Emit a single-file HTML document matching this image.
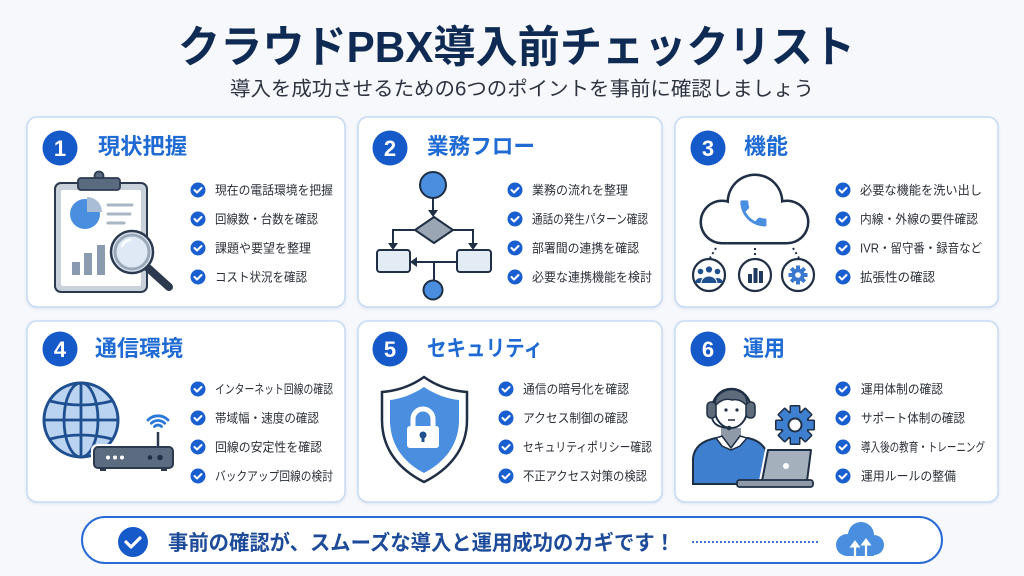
<!DOCTYPE html>
<html><head><meta charset="utf-8"><style>
html,body{margin:0;padding:0;width:1024px;height:576px;overflow:hidden;background:#f6f8fc}
svg{display:block}
text{font-family:"Liberation Sans","Noto Sans CJK JP",sans-serif}
</style></head><body>
<svg width="1024" height="576" viewBox="0 0 1024 576" xmlns="http://www.w3.org/2000/svg">
<defs>
<filter id="sh" x="-5%" y="-5%" width="110%" height="115%"><feDropShadow dx="0" dy="1" stdDeviation="1.5" flood-color="#8aa4c8" flood-opacity="0.25"/></filter>
</defs>
<rect width="1024" height="576" fill="#f6f8fc"/>

<!-- Title -->
<text x="178" y="62" font-size="44" font-weight="700" fill="#0f2b54" textLength="677" lengthAdjust="spacingAndGlyphs">クラウドPBX導入前チェックリスト</text>
<text x="230" y="95.5" font-size="20" fill="#2d3340" textLength="584" lengthAdjust="spacingAndGlyphs">導入を成功させるための6つのポイントを事前に確認しましょう</text>

<!-- Cards -->
<g fill="#fff" stroke="#c7daf3" stroke-width="1.5" filter="url(#sh)">
<rect x="27" y="117" width="318" height="190" rx="10"/>
<rect x="358" y="117" width="304" height="190" rx="10"/>
<rect x="675" y="117" width="323" height="190" rx="10"/>
<rect x="27" y="321" width="318" height="181" rx="10"/>
<rect x="358" y="321" width="304" height="181" rx="10"/>
<rect x="675" y="321" width="323" height="181" rx="10"/>
</g>

<!-- Number circles -->
<g fill="#1659c9">
<circle cx="60" cy="148" r="17.5"/><circle cx="390" cy="148" r="17.5"/><circle cx="708" cy="148" r="17.5"/>
<circle cx="60" cy="349" r="17.5"/><circle cx="390" cy="349" r="17.5"/><circle cx="708" cy="349" r="17.5"/>
</g>
<g fill="#fff" font-size="22" font-weight="700" text-anchor="middle">
<text x="60" y="156">1</text><text x="390" y="156">2</text><text x="708" y="156">3</text>
<text x="60" y="357">4</text><text x="390" y="357">5</text><text x="708" y="357">6</text>
</g>

<!-- Card titles -->
<g fill="#1f6bd3" font-size="22" font-weight="700">
<text x="98" y="154" textLength="89" lengthAdjust="spacingAndGlyphs">現状把握</text>
<text x="427" y="154" textLength="108" lengthAdjust="spacingAndGlyphs">業務フロー</text>
<text x="744" y="154" textLength="44" lengthAdjust="spacingAndGlyphs">機能</text>
<text x="95" y="356" textLength="88" lengthAdjust="spacingAndGlyphs">通信環境</text>
<text x="427" y="356" textLength="116" lengthAdjust="spacingAndGlyphs">セキュリティ</text>
<text x="743" y="356" textLength="42" lengthAdjust="spacingAndGlyphs">運用</text>
</g>

<!-- Check icons -->
<g fill="#1a5fd0">
<circle cx="198" cy="190" r="7.5"/><circle cx="198" cy="219" r="7.5"/><circle cx="198" cy="248" r="7.5"/><circle cx="198" cy="277" r="7.5"/>
<circle cx="515" cy="190" r="7.5"/><circle cx="515" cy="219" r="7.5"/><circle cx="515" cy="248" r="7.5"/><circle cx="515" cy="277" r="7.5"/>
<circle cx="843" cy="190" r="7.5"/><circle cx="843" cy="219" r="7.5"/><circle cx="843" cy="248" r="7.5"/><circle cx="843" cy="277" r="7.5"/>
<circle cx="198" cy="389" r="7.5"/><circle cx="198" cy="418" r="7.5"/><circle cx="198" cy="447" r="7.5"/><circle cx="198" cy="476" r="7.5"/>
<circle cx="506" cy="389" r="7.5"/><circle cx="506" cy="418" r="7.5"/><circle cx="506" cy="447" r="7.5"/><circle cx="506" cy="476" r="7.5"/>
<circle cx="843" cy="389" r="7.5"/><circle cx="843" cy="418" r="7.5"/><circle cx="843" cy="447" r="7.5"/><circle cx="843" cy="476" r="7.5"/>
</g>
<g fill="none" stroke="#fff" stroke-width="2" stroke-linecap="round" stroke-linejoin="round">
<path d="M194.5 190l2.5 2.5 4.5-4.5M194.5 219l2.5 2.5 4.5-4.5M194.5 248l2.5 2.5 4.5-4.5M194.5 277l2.5 2.5 4.5-4.5"/>
<path d="M511.5 190l2.5 2.5 4.5-4.5M511.5 219l2.5 2.5 4.5-4.5M511.5 248l2.5 2.5 4.5-4.5M511.5 277l2.5 2.5 4.5-4.5"/>
<path d="M839.5 190l2.5 2.5 4.5-4.5M839.5 219l2.5 2.5 4.5-4.5M839.5 248l2.5 2.5 4.5-4.5M839.5 277l2.5 2.5 4.5-4.5"/>
<path d="M194.5 389l2.5 2.5 4.5-4.5M194.5 418l2.5 2.5 4.5-4.5M194.5 447l2.5 2.5 4.5-4.5M194.5 476l2.5 2.5 4.5-4.5"/>
<path d="M502.5 389l2.5 2.5 4.5-4.5M502.5 418l2.5 2.5 4.5-4.5M502.5 447l2.5 2.5 4.5-4.5M502.5 476l2.5 2.5 4.5-4.5"/>
<path d="M839.5 389l2.5 2.5 4.5-4.5M839.5 418l2.5 2.5 4.5-4.5M839.5 447l2.5 2.5 4.5-4.5M839.5 476l2.5 2.5 4.5-4.5"/>
</g>

<!-- Check item texts -->
<g fill="#2a2f38" font-size="12.5" lengthAdjust="spacingAndGlyphs">
<text x="215" y="194.5" textLength="118" lengthAdjust="spacingAndGlyphs">現在の電話環境を把握</text>
<text x="215" y="223.5" textLength="103" lengthAdjust="spacingAndGlyphs">回線数・台数を確認</text>
<text x="215" y="252.5" textLength="96" lengthAdjust="spacingAndGlyphs">課題や要望を整理</text>
<text x="215" y="281.5" textLength="92" lengthAdjust="spacingAndGlyphs">コスト状況を確認</text>

<text x="532" y="194.5" textLength="96" lengthAdjust="spacingAndGlyphs">業務の流れを整理</text>
<text x="532" y="223.5" textLength="116" lengthAdjust="spacingAndGlyphs">通話の発生パターン確認</text>
<text x="532" y="252.5" textLength="107" lengthAdjust="spacingAndGlyphs">部署間の連携を確認</text>
<text x="532" y="281.5" textLength="120" lengthAdjust="spacingAndGlyphs">必要な連携機能を検討</text>

<text x="860" y="194.5" textLength="122" lengthAdjust="spacingAndGlyphs">必要な機能を洗い出し</text>
<text x="860" y="223.5" textLength="118" lengthAdjust="spacingAndGlyphs">内線・外線の要件確認</text>
<text x="860" y="252.5" textLength="122" lengthAdjust="spacingAndGlyphs">IVR・留守番・録音など</text>
<text x="860" y="281.5" textLength="75" lengthAdjust="spacingAndGlyphs">拡張性の確認</text>

<text x="215" y="393.5" textLength="118" lengthAdjust="spacingAndGlyphs">インターネット回線の確認</text>
<text x="215" y="422.5" textLength="104" lengthAdjust="spacingAndGlyphs">帯域幅・速度の確認</text>
<text x="215" y="451.5" textLength="107" lengthAdjust="spacingAndGlyphs">回線の安定性を確認</text>
<text x="215" y="480.5" textLength="118" lengthAdjust="spacingAndGlyphs">バックアップ回線の検討</text>

<text x="523" y="393.5" textLength="106" lengthAdjust="spacingAndGlyphs">通信の暗号化を確認</text>
<text x="523" y="422.5" textLength="105" lengthAdjust="spacingAndGlyphs">アクセス制御の確認</text>
<text x="523" y="451.5" textLength="129" lengthAdjust="spacingAndGlyphs">セキュリティポリシー確認</text>
<text x="523" y="480.5" textLength="124" lengthAdjust="spacingAndGlyphs">不正アクセス対策の検認</text>

<text x="861" y="393.5" textLength="82" lengthAdjust="spacingAndGlyphs">運用体制の確認</text>
<text x="861" y="422.5" textLength="104" lengthAdjust="spacingAndGlyphs">サポート体制の確認</text>
<text x="861" y="451.5" textLength="124" lengthAdjust="spacingAndGlyphs">導入後の教育・トレーニング</text>
<text x="861" y="480.5" textLength="95" lengthAdjust="spacingAndGlyphs">運用ルールの整備</text>
</g>

<!-- Card 1 illustration: clipboard -->
<rect x="55" y="183" width="92" height="109" rx="6" fill="#c9d1db" stroke="#2b3a4f" stroke-width="2"/>
<rect x="61" y="190" width="80" height="96" rx="2" fill="#fff"/>
<circle cx="99" cy="176" r="4.5" fill="#5a6b80" stroke="#2b3a4f" stroke-width="1.8"/>
<rect x="78" y="178" width="42" height="12" rx="3" fill="#5a6b80" stroke="#2b3a4f" stroke-width="1.8"/>
<circle cx="85" cy="214" r="15" fill="#4a8ee0"/>
<path d="M87 197 A15 15 0 0 1 102 212 L87 212 Z" fill="#a9bdd6"/>
<g stroke="#a9b6c6" stroke-width="3" stroke-linecap="round"><line x1="108" y1="205" x2="132" y2="205"/><line x1="108" y1="214" x2="130" y2="214"/><line x1="108" y1="223" x2="124" y2="223"/></g>
<g fill="#8a9bb0"><rect x="72" y="262" width="8" height="13"/><rect x="84" y="253" width="8" height="22"/><rect x="97" y="245" width="8" height="30"/></g>
<line x1="148" y1="268" x2="169" y2="287" stroke="#2b3a4f" stroke-width="8" stroke-linecap="round"/>
<circle cx="132" cy="252" r="21" fill="#dfe9f6" stroke="#2b3a4f" stroke-width="2.5"/>
<circle cx="132" cy="252" r="17" fill="none" stroke="#9aa8b8" stroke-width="3"/>
<path d="M122 246 A11 11 0 0 1 130 240" fill="none" stroke="#fff" stroke-width="2.5" stroke-linecap="round"/>

<!-- Card 2 illustration: flowchart -->
<g stroke="#1f2f45" stroke-width="2" fill="none">
<line x1="433" y1="198" x2="433" y2="211"/>
<polyline points="415,230 393,230 393,244"/>
<polyline points="453,230 473,230 473,244"/>
<line x1="457" y1="262" x2="416" y2="262"/>
<line x1="434" y1="262" x2="434" y2="281"/>
</g>
<g fill="#1f2f45">
<polygon points="428,210 438,210 433,217"/>
<polygon points="388,243 398,243 393,250"/>
<polygon points="468,243 478,243 473,250"/>
<polygon points="417,257 417,267 410,262"/>
</g>
<circle cx="433" cy="185" r="13" fill="#4a8ee0" stroke="#1f2f45" stroke-width="2"/>
<polygon points="434,217 453,230 434,243 415,230" fill="#9aa6b4" stroke="#1f2f45" stroke-width="2"/>
<rect x="377" y="250" width="33" height="22" rx="3" fill="#e3ebf5" stroke="#1f2f45" stroke-width="2"/>
<rect x="457" y="250" width="34" height="22" rx="3" fill="#e3ebf5" stroke="#1f2f45" stroke-width="2"/>
<circle cx="433" cy="290" r="9.5" fill="#4a8ee0" stroke="#1f2f45" stroke-width="2"/>

<!-- Card 3 illustration: cloud -->
<g fill="#1f2f45">
<circle cx="722" cy="222" r="22.5"/><circle cx="755" cy="202" r="28.5"/><circle cx="787" cy="222" r="22.5"/><rect x="722" y="208" width="65" height="36.5"/>
</g>
<g fill="#fff">
<circle cx="722" cy="222" r="20"/><circle cx="755" cy="202" r="26"/><circle cx="787" cy="222" r="20"/><rect x="722" y="208" width="65" height="34"/>
</g>
<g transform="translate(736,196) scale(1.45)" fill="#4a8ee0">
<path d="M6.62 10.79c1.44 2.83 3.76 5.14 6.59 6.59l2.2-2.2c.27-.27.67-.36 1.02-.24 1.12.37 2.33.57 3.57.57.55 0 1 .45 1 1V20c0 .55-.45 1-1 1-9.39 0-17-7.61-17-17 0-.55.45-1 1-1h3.5c.55 0 1 .45 1 1 0 1.25.2 2.45.57 3.57.11.35.03.74-.25 1.02l-2.2 2.2z"/>
</g>
<g stroke="#1f2f45" stroke-width="2" stroke-dasharray="2 3" fill="none">
<line x1="716" y1="248" x2="710" y2="258"/><line x1="755" y1="248" x2="755" y2="258"/><line x1="793" y1="248" x2="799" y2="258"/>
</g>
<g fill="#fff" stroke="#1f2f45" stroke-width="2.2">
<circle cx="709" cy="275" r="16"/><circle cx="755" cy="275" r="16"/><circle cx="798" cy="275" r="16"/>
</g>
<g fill="#1f4f8f">
<circle cx="700.5" cy="271.5" r="2.8"/><path d="M695 283a5.5 5 0 0 1 11 0Z"/>
<circle cx="717.5" cy="271.5" r="2.8"/><path d="M712 283a5.5 5 0 0 1 11 0Z"/>
<circle cx="709" cy="269.5" r="3.6" stroke="#fff" stroke-width="1"/><path d="M701 283.5a8 7.5 0 0 1 16 0Z" stroke="#fff" stroke-width="1"/>
</g>
<g fill="#1f3a5f"><rect x="748" y="274" width="4" height="9"/><rect x="753.5" y="268" width="4" height="15"/><rect x="759" y="271" width="4" height="12"/></g>
<g transform="translate(798,275)" fill="#3a78d0">
<circle r="6.5"/>
<rect x="-2" y="-9.5" width="4" height="19"/><rect x="-2" y="-9.5" width="4" height="19" transform="rotate(45)"/><rect x="-2" y="-9.5" width="4" height="19" transform="rotate(90)"/><rect x="-2" y="-9.5" width="4" height="19" transform="rotate(135)"/>
<circle r="2.8" fill="#fff"/>
</g>

<!-- Card 4 illustration: globe + router -->
<circle cx="81" cy="420" r="37" fill="#b9d3f1" stroke="#1f4f8f" stroke-width="3"/>
<g fill="none" stroke="#1f4f8f" stroke-width="2.8">
<ellipse cx="81" cy="420" rx="17" ry="37"/>
<line x1="81" y1="383" x2="81" y2="457"/>
<line x1="44" y1="420" x2="118" y2="420"/>
<path d="M50 401 Q81 409 112 401"/>
<path d="M50 439 Q81 431 112 439"/>
</g>
<rect x="91" y="444" width="85" height="26" rx="6" fill="#fff"/>
<rect x="94" y="447" width="79" height="21" rx="4" fill="#5b6b80" stroke="#2b3a4f" stroke-width="2"/>
<g fill="#fff"><circle cx="108" cy="457.5" r="2"/><circle cx="115" cy="457.5" r="2"/><circle cx="122" cy="457.5" r="2"/></g>
<g fill="#1f2f45"><circle cx="150" cy="457.5" r="2.3"/><circle cx="160" cy="457.5" r="2.8"/></g>
<g fill="#2b3a4f"><rect x="100" y="468" width="6" height="3"/><rect x="161" y="468" width="6" height="3"/></g>
<line x1="158" y1="447" x2="158" y2="432" stroke="#2b3a4f" stroke-width="2.5"/>
<g fill="none" stroke="#2a78d8" stroke-width="2.8" stroke-linecap="round">
<path d="M154.5 426.5 A5 5 0 0 1 161.5 426.5"/>
<path d="M151.3 423.3 A9.5 9.5 0 0 1 164.7 423.3"/>
<path d="M148 420 A14 14 0 0 1 168 420"/>
</g>

<!-- Card 5 illustration: shield -->
<path d="M424 377 C410 387 395 391 382 392 L382 420 C382 450 400 470 424 482 C448 470 467 450 467 420 L467 392 C453 391 438 387 424 377 Z" fill="#fff" stroke="#1f2f45" stroke-width="2.5"/>
<path d="M424 387 C412 395 400 399 390 400 L390 422 C391 447 405 463 424 473 C443 463 458 447 459 422 L459 400 C448 399 436 395 424 387 Z" fill="#4a8ee0"/>
<path d="M413 427 L413 419 A10 10 0 0 1 433 419 L433 427" fill="none" stroke="#fff" stroke-width="5"/>
<rect x="407" y="426" width="32" height="22" rx="3" fill="#fff"/>
<circle cx="423" cy="435" r="3.5" fill="#1f4f8f"/>
<rect x="421.5" y="435" width="3" height="7" fill="#1f4f8f"/>

<!-- Card 6 illustration: operator -->
<path d="M693 484 L693 458 Q695 442 716 438 L748 438 Q766 442 768 458 L768 484 Z" fill="#3f7fd0" stroke="#1f2f45" stroke-width="2"/>
<path d="M721 438 L731 449 L741 438 L741 428 L721 428 Z" fill="#8f9aa8"/>
<path d="M716 438 L722 436 L731 448 L740 436 L747 438 L740 446 L731 450 L722 446 Z" fill="#fff" stroke="#1f2f45" stroke-width="1.5"/>
<ellipse cx="731" cy="410" rx="16" ry="18" fill="#fff" stroke="#1f2f45" stroke-width="2"/>
<path d="M715 406 Q715 389 731 389 Q748 389 747 406 Q740 398 732 400 Q723 397 715 406 Z" fill="#5e6b7b" stroke="#1f2f45" stroke-width="1.5"/>
<path d="M712 410 A19.5 21 0 0 1 751 410" fill="none" stroke="#1f2f45" stroke-width="2.5"/>
<rect x="707" y="402" width="9" height="16" rx="4" fill="#5e6b7b" stroke="#1f2f45" stroke-width="1.5"/>
<rect x="746" y="402" width="9" height="16" rx="4" fill="#5e6b7b" stroke="#1f2f45" stroke-width="1.5"/>
<path d="M712 418 Q714 427 728 428" fill="none" stroke="#1f2f45" stroke-width="1.8"/>
<circle cx="729" cy="428" r="2.3" fill="#1f2f45"/>
<g fill="#1f2f45"><circle cx="726" cy="410" r="1.6"/><circle cx="737" cy="410" r="1.6"/></g>
<line x1="728" y1="420" x2="735" y2="420" stroke="#1f2f45" stroke-width="1.5"/>
<g transform="translate(795,425)">
<g fill="#1f2f45"><circle r="15"/>
<rect x="-5.5" y="-20" width="11" height="40" rx="1.5"/><rect x="-5.5" y="-20" width="11" height="40" rx="1.5" transform="rotate(45)"/><rect x="-5.5" y="-20" width="11" height="40" rx="1.5" transform="rotate(90)"/><rect x="-5.5" y="-20" width="11" height="40" rx="1.5" transform="rotate(135)"/></g>
<g fill="#3f7fd0"><circle r="13"/>
<rect x="-4" y="-18.5" width="8" height="37"/><rect x="-4" y="-18.5" width="8" height="37" transform="rotate(45)"/><rect x="-4" y="-18.5" width="8" height="37" transform="rotate(90)"/><rect x="-4" y="-18.5" width="8" height="37" transform="rotate(135)"/></g>
<circle r="6.5" fill="#fff" stroke="#1f2f45" stroke-width="2"/>
</g>
<polygon points="768,450 811,450 807,481 762,481" fill="none" stroke="#fff" stroke-width="6" stroke-linejoin="round"/>
<polygon points="768,450 811,450 807,481 762,481" fill="#a5b0bd" stroke="#1f2f45" stroke-width="2" stroke-linejoin="round"/>
<circle cx="786" cy="466" r="3" fill="#fff"/>
<rect x="737" y="480" width="76" height="7" rx="2.5" fill="#8f9aa8" stroke="#1f2f45" stroke-width="1.8"/>

<!-- Bottom banner -->
<rect x="82" y="517" width="860" height="46" rx="23" fill="#fff" stroke="#2a6ad4" stroke-width="2"/>
<circle cx="133" cy="542" r="15" fill="#1659c9"/>
<path d="M126 542 l5 5 l9 -9" fill="none" stroke="#fff" stroke-width="3.2" stroke-linecap="round" stroke-linejoin="round"/>
<text x="168" y="550" font-size="21" font-weight="700" fill="#1d4b9a" textLength="507" lengthAdjust="spacingAndGlyphs">事前の確認が、スムーズな導入と運用成功のカギです！</text>
<line x1="692" y1="542" x2="818" y2="542" stroke="#3b78d8" stroke-width="2" stroke-dasharray="2 2"/>
<g fill="#4a8ee0">
<circle cx="847" cy="545" r="11"/><circle cx="861" cy="535" r="13"/><circle cx="874" cy="545" r="10"/><rect x="847" y="540" width="27" height="16"/>
</g>
<g stroke="#fff" stroke-width="2.2" fill="#fff">
<line x1="855" y1="557" x2="855" y2="546"/><polygon points="850.5,547 859.5,547 855,541" stroke-width="1"/>
<line x1="866" y1="557" x2="866" y2="544"/><polygon points="861.5,545 870.5,545 866,539" stroke-width="1"/>
</g>
</svg>
</body></html>
